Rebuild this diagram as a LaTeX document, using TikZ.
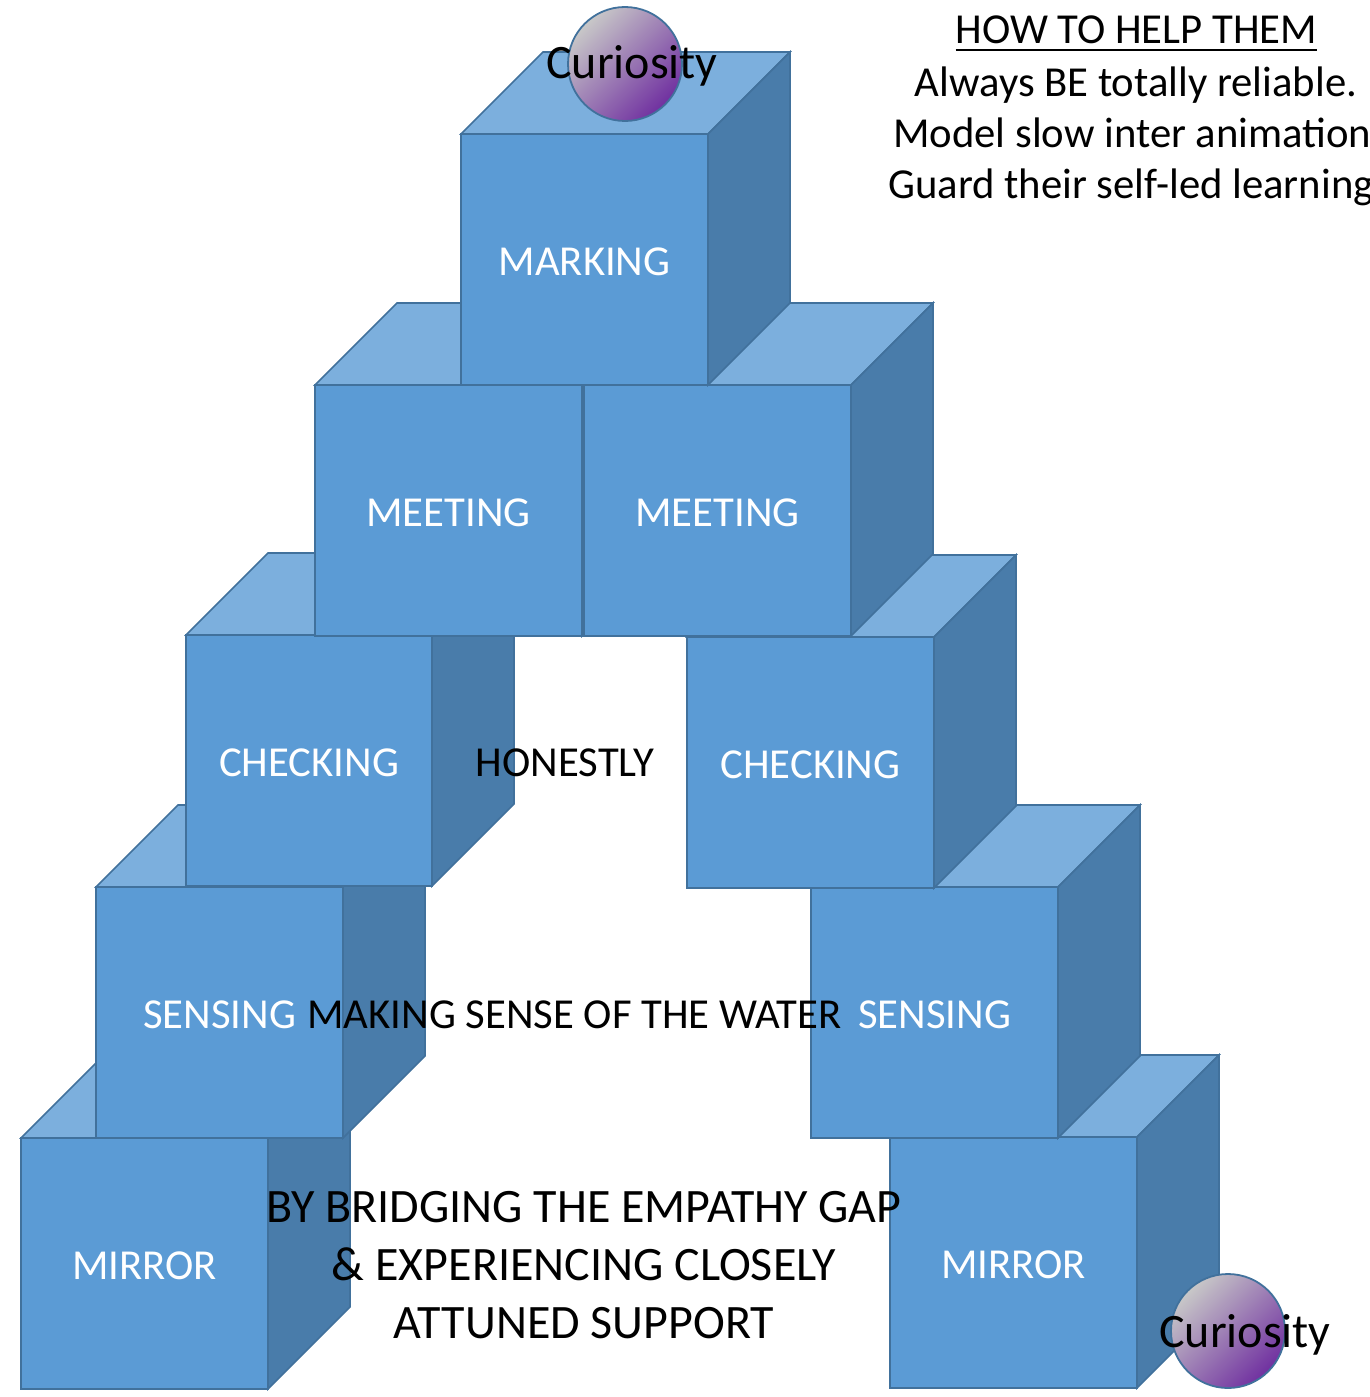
\documentclass[tikz,border=0pt]{standalone}
\usepackage{fontspec}
\setmainfont{Carlito}
\definecolor{cubefront}{HTML}{5B9BD5}
\definecolor{cubetop}{HTML}{7CAFDD}
\definecolor{cubeside}{HTML}{497CAA}
\definecolor{cubeedge}{HTML}{41719C}
\definecolor{ballgrey}{HTML}{C8C8C8}
\definecolor{ballpurple}{HTML}{7030A0}

% one block: front face node named #1 at top-left (#2,#3), width #4, label #5
\newcommand\stackblock[5]{%
  \node[frontface, minimum width=#4pt] (#1) at (#2,#3) {};
  \draw[topface] (#1.north west) -- ++(82,-82)
     -- ([shift={(82,-82)}]#1.north east) -- (#1.north east) -- cycle;
  \draw[sideface] (#1.north east) -- ++(82,-82)
     -- ([shift={(82,-82)}]#1.south east) -- (#1.south east) -- cycle;
  \node[blocklabel] (#1-label) at ([yshift=-2pt]#1.center) {#5};
}

\begin{document}
\begin{tikzpicture}[x=1pt,y=-1pt,
  cubeline/.style={draw=cubeedge, line width=1.6pt, line join=miter},
  frontface/.style={cubeline, fill=cubefront, rectangle, anchor=north west,
    minimum height=251pt, inner sep=0pt, outer sep=0pt},
  blocklabel/.style={text=white, inner sep=0pt, font=\fontsize{42.7}{51}\selectfont},
  topface/.style={cubeline, fill=cubetop},
  sideface/.style={cubeline, fill=cubeside},
  plaintext/.style={text=black, inner sep=0pt, font=\fontsize{42.7}{51}\selectfont},
  bigtext/.style={text=black, inner sep=0pt, font=\fontsize{48}{57.6}\selectfont},
  ball/.style={circle, draw=cubeedge, line width=1.8pt, minimum size=114pt,
    inner sep=0pt, top color=ballgrey, bottom color=ballpurple, shading angle=45}
]
\useasboundingbox (0,0) rectangle (1370,1397);

% bottom row up to the keystone
\stackblock{mirrorL}{21}{1138}{247}{MIRROR}
\stackblock{mirrorR}{890}{1137}{247}{MIRROR}
\stackblock{sensingL}{96}{887}{247}{SENSING}
\stackblock{sensingR}{811}{887}{247}{SENSING}
\stackblock{checkingL}{186}{635}{246}{CHECKING}
\stackblock{checkingR}{687}{637}{247}{CHECKING}
\stackblock{meetingL}{315}{385}{267}{MEETING}
\stackblock{meetingR}{584}{385}{267}{MEETING}
\stackblock{marking}{461}{134}{247}{MARKING}

% the two balls
\node[ball] (ballTop) at (625,64) {};
\node[bigtext, anchor=base] (curTop) at (632,78.5) {Curiosity};
\node[ball] (ballBottom) at (1228,1331) {};
\node[bigtext, anchor=base] (curBottom) at (1245,1347) {Curiosity};

% texts inside the arch
\node[plaintext] (honest) at (565,763) {HONESTLY};
\node[plaintext] (water) at (574.5,1015) {MAKING SENSE OF THE WATER};
\node[bigtext, align=center] (bridge) at (584,1265)
  {BY BRIDGING THE EMPATHY GAP\\ \& EXPERIENCING CLOSELY\\ ATTUNED SUPPORT};

% advice list
\node[plaintext, anchor=base] (howto) at (1136.5,44) {HOW TO HELP THEM};
\draw[line width=2.4pt] ([yshift=-6]howto.base west) -- ([yshift=-6]howto.base east);
\node[plaintext, anchor=base] (tip1) at (1136,96) {Always BE totally reliable.};
\node[plaintext, anchor=base west] (tip2) at (893,147) {Model slow inter animation};
\node[plaintext, anchor=base west] (tip3) at (888,198) {Guard their self-led learning};
\end{tikzpicture}
\end{document}
